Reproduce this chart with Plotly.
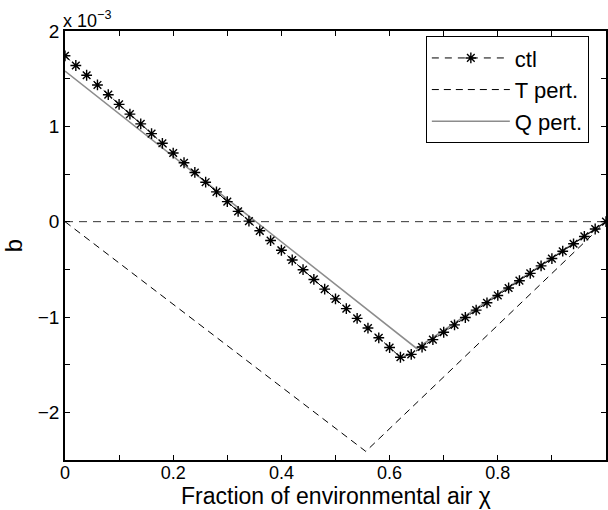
import plotly.graph_objects as go

# fraction of environmental air (chi)
chi_ctl = [0.00, 0.02, 0.04, 0.06, 0.08, 0.10, 0.12, 0.14, 0.16, 0.18,
           0.20, 0.22, 0.24, 0.26, 0.28, 0.30, 0.32, 0.34, 0.36, 0.38,
           0.40, 0.42, 0.44, 0.46, 0.48, 0.50, 0.52, 0.54, 0.56, 0.58,
           0.60, 0.62, 0.64, 0.66, 0.68, 0.70, 0.72, 0.74, 0.76, 0.78,
           0.80, 0.82, 0.84, 0.86, 0.88, 0.90, 0.92, 0.94, 0.96, 0.98, 1.00]
# buoyancy b in units of 1e-3
b_ctl = [1.740, 1.638, 1.536, 1.434, 1.332, 1.230, 1.128, 1.026, 0.924, 0.822,
         0.720, 0.618, 0.516, 0.414, 0.312, 0.210, 0.108, 0.006, -0.096, -0.198,
         -0.300, -0.402, -0.504, -0.606, -0.708, -0.810, -0.912, -1.014, -1.116, -1.218,
         -1.320, -1.422, -1.392, -1.315, -1.237, -1.160, -1.083, -1.005, -0.928, -0.851,
         -0.774, -0.696, -0.619, -0.542, -0.464, -0.387, -0.310, -0.232, -0.155, -0.077, 0.000]

chi_T = [0.0, 0.556, 1.0]
b_T = [0.0, -2.41, 0.0]

chi_Q = [0.0, 0.65, 1.0]
b_Q = [1.58, -1.33, 0.0]

zero_x = [0.0, 1.0]
zero_y = [0.0, 0.0]

FONT = "Liberation Sans, Arial, Helvetica, sans-serif"

fig = go.Figure()

fig.add_trace(go.Scatter(x=zero_x, y=zero_y, mode="lines",
                         line=dict(color="#333333", width=1, dash="8px,6px"),
                         showlegend=False, hoverinfo="skip"))

fig.add_trace(go.Scatter(x=chi_T, y=b_T, mode="lines", name="T pert.", legendrank=2,
                         line=dict(color="black", width=1, dash="7px,5px")))

fig.add_trace(go.Scatter(x=chi_Q, y=b_Q, mode="lines", name="Q pert.", legendrank=3,
                         line=dict(color="#8c8c8c", width=1.5)))

fig.add_trace(go.Scatter(x=chi_ctl, y=b_ctl, mode="lines+markers", name="ctl", legendrank=1,
                         line=dict(color="black", width=1, dash="7px,6px"),
                         marker=dict(symbol="asterisk-open", size=9,
                                     line=dict(color="black", width=1.4))))

fig.update_layout(
    width=608, height=510,
    margin=dict(l=65, r=0, t=31, b=50),
    paper_bgcolor="white", plot_bgcolor="white",
    font=dict(family=FONT, size=16, color="black"),
    showlegend=True,
    legend=dict(x=0.667, y=0.988, xanchor="left", yanchor="top",
                bordercolor="black", borderwidth=1, bgcolor="white",
                font=dict(size=22, family=FONT), itemwidth=78,
                traceorder="normal", tracegroupgap=0),
    xaxis=dict(range=[0, 1], tickvals=[0, 0.2, 0.4, 0.6, 0.8, 1.0],
               ticktext=["0", "0.2", "0.4", "0.6", "0.8", "1"],
               ticks="inside", ticklen=5, tickwidth=1, tickcolor="black",
               minor=dict(dtick=0.1, ticks="inside", ticklen=5, tickcolor="black", showgrid=False),
               showline=True, linecolor="black", linewidth=1.5, mirror="allticks",
               showgrid=False, zeroline=False, ticklabelstandoff=-4,
               tickfont=dict(size=18)),
    yaxis=dict(range=[-2.5, 2], tickvals=[-2, -1, 0, 1, 2],
               ticktext=["−2", "−1", "0", "1", "2"],
               ticks="inside", ticklen=5, tickwidth=1, tickcolor="black",
               minor=dict(dtick=0.5, ticks="inside", ticklen=5, tickcolor="black", showgrid=False),
               showline=True, linecolor="black", linewidth=1.5, mirror="allticks",
               showgrid=False, zeroline=False,
               tickfont=dict(size=19),
               title=dict(text="b", font=dict(size=24), standoff=12)),
)

# x-axis title
fig.add_annotation(x=0.5, y=0, xref="paper", yref="paper", xanchor="center", yanchor="bottom",
                   text="Fraction of environmental air χ", showarrow=False, yshift=-51,
                   font=dict(size=23, family=FONT))

fig.add_annotation(x=0, y=1, xref="paper", yref="paper", xanchor="left", yanchor="bottom",
                   text="x 10<sup>−3</sup>", showarrow=False, xshift=-4, yshift=-2,
                   font=dict(size=18, family=FONT))

fig.write_html("out.html")
